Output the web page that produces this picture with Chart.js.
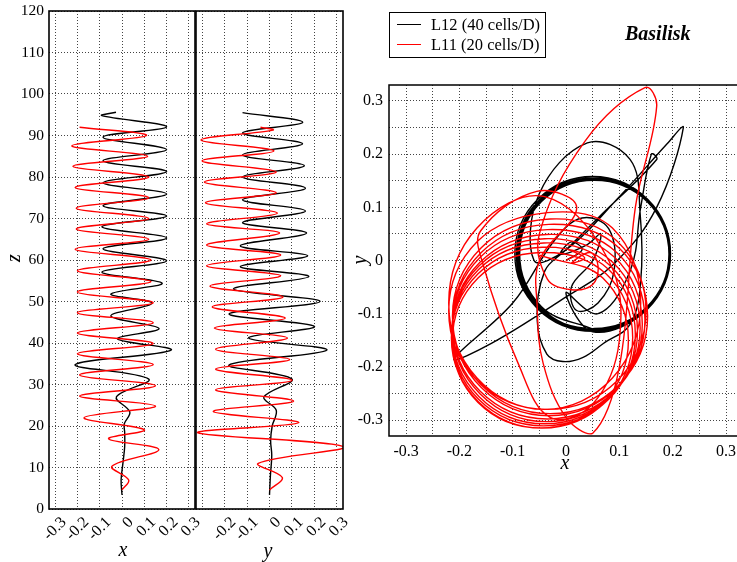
<!DOCTYPE html>
<html>
<head>
<meta charset="utf-8">
<script src="https://cdn.jsdelivr.net/npm/chart.js@4.4.0/dist/chart.umd.min.js"></script>
<style>
  body { margin: 0; width: 737px; height: 562px; overflow: hidden; background: #fff; position: relative; font-family: "Liberation Serif", "Times New Roman", serif; }
  .panel { position: absolute; top: 0; }
  .lbl { position: absolute; font-style: italic; font-size: 20px; line-height: 20px; transform: translate(-50%, -50%); white-space: nowrap; }
  .rot { transform: translate(-50%, -50%) rotate(-90deg); }
  #legend { position: absolute; left: 389px; top: 12px; width: 155px; height: 44px; border: 1px solid #000; }
  .row { position: absolute; left: 0; font-size: 16.5px; line-height: 17px; }
  .row i { position: absolute; left: 7px; top: 8px; width: 24px; height: 0; border-top: 1.5px solid; }
  .row span { position: absolute; left: 41px; top: 0; white-space: nowrap; }
  #title { position: absolute; left: 625px; top: 22px; font-weight: bold; font-style: italic; font-size: 20px; }
</style>
</head>
<body>
<div class="panel" style="left:0;width:200px"><canvas id="chartX" width="200" height="562"></canvas></div>
<div class="panel" style="left:180px;width:170px"><canvas id="chartY" width="170" height="562"></canvas></div>
<div class="panel" style="left:350px;width:400px"><canvas id="chartXY" width="400" height="562"></canvas></div>

<div class="lbl rot" style="left:13px;top:258px">z</div>
<div class="lbl" style="left:123px;top:549px">x</div>
<div class="lbl" style="left:268px;top:550px">y</div>
<div class="lbl" style="left:565px;top:462px">x</div>
<div class="lbl rot" style="left:359px;top:260px">y</div>

<div id="legend">
  <div class="row" style="top:3px"><i style="color:#000"></i><span>L12 (40 cells/D)</span></div>
  <div class="row" style="top:23px"><i style="color:#f00"></i><span>L11 (20 cells/D)</span></div>
</div>
<div id="title">Basilisk</div>

<script>
// ---- left panels: z against x and y ----
const zTicks = [0, 10, 20, 30, 40, 50, 60, 70, 80, 90, 100, 110, 120];
const sideTicks = [-0.3, -0.2, -0.1, 0, 0.1, 0.2, 0.3];
const xSideLabels = ['-0.3', '-0.2', '-0.1', '0', '0.1', '0.2', '0.3'];
const ySideLabels = ['', '-0.2', '-0.1', '0', '0.1', '0.2', '0.3'];

// [x, z]
const xzL12 = [[0, 3.4], [-0.004, 7], [0.004, 11], [0.012, 15], [0.012, 18.5], [0.01, 20.5], [0.035, 23.4], [-0.025, 27],
  [0.12, 31.3], [-0.21, 34.8], [0.22, 38.3], [-0.02, 41], [0.166, 43.5], [-0.05, 46.5], [0.135, 49.6], [-0.05, 51.8],
  [0.18, 54.4], [-0.09, 57.1], [0.2, 59.8], [-0.085, 62.7], [0.2, 65.3], [-0.09, 68], [0.2, 70.6], [-0.085, 73.1],
  [0.2, 75.9], [-0.085, 78.6], [0.2, 81.3], [-0.085, 83.9], [0.2, 86.6], [-0.085, 89.6], [0.2, 92.1], [-0.09, 94.8],
  [-0.027, 95.6]];
const xzL11 = [[0, 4.6], [0.03, 7], [-0.045, 10.3], [0.165, 14.3], [-0.06, 16.9], [0.1, 19.1], [-0.17, 22], [0.15, 24.8],
  [-0.19, 27.2], [0.15, 29.7], [-0.19, 32.3], [0.14, 34.8], [-0.2, 37.4], [0.14, 39.9], [-0.2, 42.4], [0.14, 44.9],
  [-0.2, 47.3], [0.14, 49.7], [-0.2, 52.3], [0.13, 54.8], [-0.2, 57.4], [0.13, 60], [-0.21, 62.6], [0.12, 65],
  [-0.205, 67.5], [0.12, 70], [-0.205, 72.5], [0.12, 75], [-0.21, 77.5], [0.12, 80], [-0.22, 82.6], [0.115, 85],
  [-0.225, 87.5], [0.11, 90], [-0.19, 92]];
// [y, z]
const yzL12 = [[0, 3.4], [0.004, 8], [0.01, 13], [0.005, 16.5], [0.012, 20], [0.03, 23.8], [-0.025, 27], [0.1, 31.3],
  [-0.18, 34.7], [0.255, 38.3], [-0.093, 41.2], [0.2, 44], [-0.18, 47], [0.225, 50], [-0.16, 53], [0.175, 56],
  [-0.13, 58.4], [0.17, 61], [-0.13, 63.4], [0.165, 66.5], [-0.12, 69], [0.16, 71.8], [-0.12, 74.5], [0.16, 77.3],
  [-0.12, 80], [0.155, 82.7], [-0.12, 85.3], [0.147, 88], [-0.12, 90.6], [0.148, 93.2], [-0.12, 95.5]];
const yzL11 = [[0, 4.6], [0.057, 7.6], [-0.05, 11], [0.33, 15], [-0.32, 18.4], [0.13, 20.8], [-0.25, 23.5], [0.107, 26],
  [-0.24, 28.7], [0.1, 31], [-0.24, 33.7], [0.09, 36], [-0.24, 38.5], [0.08, 41.2], [-0.245, 43.6], [0.07, 46],
  [-0.255, 48.7], [0.06, 51.1], [-0.265, 53.7], [0.05, 56.2], [-0.28, 58.6], [0.05, 61.2], [-0.28, 63.6], [0.045, 66.5],
  [-0.28, 68.7], [0.035, 71.3], [-0.285, 73.8], [0.03, 76.2], [-0.29, 78.8], [0.03, 81.2], [-0.3, 83.9], [0.02, 86.3],
  [-0.305, 88.9], [0.015, 91.3], [-0.04, 92]];

// ---- right panel: trajectory in the x-y plane ----
const planeTicks = [-0.3, -0.25, -0.2, -0.15, -0.1, -0.05, 0, 0.05, 0.1, 0.15, 0.2, 0.25, 0.3];
const planeLabels = ['-0.3', '', '-0.2', '', '-0.1', '', '0', '', '0.1', '', '0.2', '', '0.3'];

// [x, y]
const xyL12Start = [[0, 0], [0.03, 0.02], [0.01, 0.035], [-0.01, 0.012], [0.04, 0.03], [0.065, 0.05], [0.05, 0],
  [0.01, -0.05], [0.02, -0.094], [0.06, -0.08], [0.09, -0.02], [0.08, 0.06], [0.03, 0.08], [-0.02, 0.04],
  [-0.1, -0.08], [-0.21, -0.185], [-0.14, -0.156], [-0.01, -0.075], [0.09, -0.006], [0.17, 0.1], [0.22, 0.25],
  [0.19, 0.22], [0.1, 0.12], [0, 0.02], [-0.06, 0], [-0.05, 0.126], [0.04, 0.221], [0.12, 0.19], [0.139, 0.088],
  [0.14, -0.04], [0.12, -0.12], [0.07, -0.156], [0.032, -0.182], [-0.006, -0.19], [-0.036, -0.176], [-0.054, -0.113],
  [-0.04, -0.02], [0, 0.02], [0.06, 0.08], [0.17, 0.19], [0.16, 0.2], [0.14, 0.1], [0.12, -0.02], [0.06, -0.1],
  [0, -0.06]];
const xyL12Ring = [
  [0.05, -0.134], [0.153, -0.091], [0.196, 0.012], [0.153, 0.115], [0.05, 0.158], [-0.053, 0.115], [-0.096, 0.012], [-0.053, -0.091],
  [0.051, -0.133], [0.153, -0.091], [0.195, 0.011], [0.153, 0.113], [0.051, 0.155], [-0.051, 0.113], [-0.093, 0.011], [-0.051, -0.091],
  [0.052, -0.13], [0.152, -0.088], [0.194, 0.012], [0.152, 0.112], [0.052, 0.154], [-0.048, 0.112], [-0.09, 0.012], [-0.048, -0.088],
  [0.053, -0.131], [0.153, -0.09], [0.194, 0.01], [0.153, 0.11], [0.053, 0.151], [-0.047, 0.11], [-0.088, 0.01], [-0.047, -0.09],
  [0.052, -0.132], [0.153, -0.09], [0.195, 0.011], [0.153, 0.112], [0.052, 0.154], [-0.049, 0.112], [-0.091, 0.011], [-0.049, -0.09],
  [0.053, -0.128], [0.152, -0.087], [0.193, 0.012], [0.152, 0.111], [0.053, 0.152], [-0.046, 0.111], [-0.087, 0.012], [-0.046, -0.087],
  [0.053, -0.13]];
const xyL11Start = [[0, 0], [0.02, 0.012], [0.005, 0.02], [0.035, 0.005], [0.01, -0.005], [0.045, 0.015], [0.06, -0.01],
  [0.05, -0.045], [0.01, -0.055], [-0.035, -0.035], [-0.05, 0.05], [0.036, 0.225], [0.148, 0.325], [0.17, 0.29],
  [0.13, 0.1], [0.1, -0.2], [0.05, -0.325], [0, -0.295], [-0.043, -0.193], [-0.054, -0.088], [-0.05, 0],
  [0.02, 0.1], [-0.055, 0.13], [-0.16, 0.056], [-0.156, -0.006], [-0.09, -0.193], [-0.03, -0.295], [0.05, -0.27],
  [0.1, -0.15], [0.08, 0]];
const xyL11Loops = [
  [-0.04, 0.12], [-0.167, 0.061], [-0.22, -0.08], [-0.167, -0.221], [-0.04, -0.28], [0.087, -0.221], [0.14, -0.08], [0.087, 0.061],
  [-0.035, 0.09], [-0.166, 0.036], [-0.22, -0.095], [-0.166, -0.226], [-0.035, -0.28], [0.096, -0.226], [0.15, -0.095], [0.096, 0.036],
  [-0.03, 0.078], [-0.159, 0.024], [-0.213, -0.105], [-0.159, -0.234], [-0.03, -0.288], [0.099, -0.234], [0.153, -0.105], [0.099, 0.024],
  [-0.032, 0.068], [-0.159, 0.015], [-0.212, -0.112], [-0.159, -0.239], [-0.032, -0.292], [0.095, -0.239], [0.148, -0.112], [0.095, 0.015],
  [-0.035, 0.058], [-0.161, 0.006], [-0.213, -0.12], [-0.161, -0.246], [-0.035, -0.298], [0.091, -0.246], [0.143, -0.12], [0.091, 0.006],
  [-0.037, 0.049], [-0.161, -0.003], [-0.213, -0.127], [-0.161, -0.251], [-0.037, -0.303], [0.087, -0.251], [0.139, -0.127], [0.087, -0.003],
  [-0.04, 0.041], [-0.163, -0.01], [-0.214, -0.133], [-0.163, -0.256], [-0.04, -0.307], [0.083, -0.256], [0.134, -0.133], [0.083, -0.01],
  [-0.042, 0.033], [-0.164, -0.017], [-0.214, -0.139], [-0.164, -0.261], [-0.042, -0.311], [0.08, -0.261], [0.13, -0.139], [0.08, -0.017],
  [-0.045, 0.025], [-0.165, -0.025], [-0.215, -0.145], [-0.165, -0.265], [-0.045, -0.315], [0.075, -0.265], [0.125, -0.145], [0.075, -0.025],
  [-0.048, 0.015], [-0.165, -0.033], [-0.213, -0.15], [-0.165, -0.267], [-0.048, -0.315], [0.069, -0.267], [0.117, -0.15], [0.069, -0.033],
  [-0.05, 0.01]];

const serif = '"Liberation Serif", "Times New Roman", serif';
Chart.defaults.font.family = serif;
Chart.defaults.color = '#000';
Chart.defaults.animation = false;

const toPoints = (arr) => arr.map(([x, y]) => ({ x, y }));

// closed box round the plot area
const frame = {
  id: 'frame',
  afterDraw(chart, args, opts) {
    const { ctx, chartArea: a } = chart;
    ctx.save();
    ctx.strokeStyle = '#000';
    ctx.lineWidth = opts.width || 1.5;
    ctx.strokeRect(a.left, a.top, a.right - a.left, a.bottom - a.top);
    ctx.restore();
  },
};

const dotted = { color: '#444', lineWidth: 1, drawTicks: false };
const noBorder = { display: false, dash: [1, 2] };

function curve(data, color, tension) {
  return {
    data: toPoints(data),
    showLine: true,
    borderColor: color,
    borderWidth: 1.4,
    pointRadius: 0,
    tension: tension,
  };
}

function sideChart(id, xzRed, xzBlack, labels, showZ, leftWidth, rightPad) {
  return new Chart(document.getElementById(id), {
    type: 'scatter',
    data: { datasets: [curve(xzRed, '#f00', 0.36), curve(xzBlack, '#000', 0.36)] },
    plugins: [frame],
    options: {
      responsive: false,
      events: [],
      layout: { padding: { top: 11, right: rightPad, bottom: 0, left: 0 } },
      scales: {
        x: {
          min: -0.327, max: 0.327,
          grid: dotted, border: noBorder,
          afterBuildTicks: (s) => { s.ticks = sideTicks.map((v) => ({ value: v })); },
          afterFit: (s) => { s.height = 53; s.paddingLeft = 0; s.paddingRight = 0; },
          ticks: {
            autoSkip: false, minRotation: 45, maxRotation: 45, padding: 4, labelOffset: 9,
            font: { size: 16 },
            callback: (v, i) => labels[i],
          },
        },
        y: {
          min: 0, max: 120,
          grid: dotted, border: noBorder,
          afterBuildTicks: (s) => { s.ticks = zTicks.map((v) => ({ value: v })); },
          afterFit: (s) => { s.width = leftWidth; s.paddingTop = 0; s.paddingBottom = 0; },
          ticks: { display: showZ, padding: 5, font: { size: 15.5 } },
        },
      },
      plugins: { legend: { display: false }, tooltip: { enabled: false }, frame: { width: 1.6 } },
    },
  });
}

sideChart('chartX', xzL11, xzL12, xSideLabels, true, 49, 5);
sideChart('chartY', yzL11, yzL12, ySideLabels, false, 16, 7);

new Chart(document.getElementById('chartXY'), {
  type: 'scatter',
  data: {
    datasets: [
      curve(xyL11Start.concat(xyL11Loops), '#f00', 0.38),
      curve(xyL12Start.concat(xyL12Ring), '#000', 0.38),
    ],
  },
  plugins: [frame],
  options: {
    responsive: false,
    events: [],
    layout: { padding: { top: 85, right: 8, bottom: 0, left: 0 } },
    scales: {
      x: {
        min: -0.332, max: 0.33,
        grid: dotted, border: noBorder,
        afterBuildTicks: (s) => { s.ticks = planeTicks.map((v) => ({ value: v })); },
        afterFit: (s) => { s.height = 126; s.paddingLeft = 0; s.paddingRight = 0; },
        ticks: { autoSkip: false, maxRotation: 0, padding: 6, font: { size: 16 }, callback: (v, i) => planeLabels[i] },
      },
      y: {
        min: -0.33, max: 0.33,
        grid: dotted, border: noBorder,
        afterBuildTicks: (s) => { s.ticks = planeTicks.map((v) => ({ value: v })); },
        afterFit: (s) => { s.width = 39; s.paddingTop = 0; s.paddingBottom = 0; },
        ticks: { autoSkip: false, padding: 6, font: { size: 16 }, callback: (v, i) => planeLabels[i] },
      },
    },
    plugins: { legend: { display: false }, tooltip: { enabled: false }, frame: { width: 1.5 } },
  },
});
</script>
</body>
</html>
